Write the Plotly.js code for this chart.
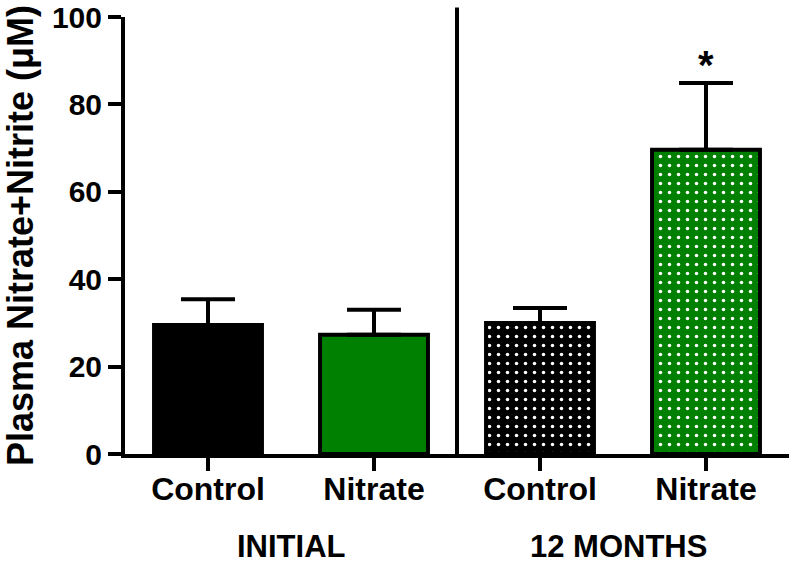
<!DOCTYPE html>
<html>
<head>
<meta charset="utf-8">
<script src="https://cdn.plot.ly/plotly-3.0.1.min.js"></script>
<style>html,body{margin:0;padding:0;background:#fff;}#chart{width:792px;height:565px;}</style>
</head>
<body>
<div id="chart"></div>
<script>
// Data
const positions = [0, 1, 2, 3];
const tickLabels = ['Control', 'Nitrate', 'Control', 'Nitrate'];
const groupLabels = ['INITIAL', '12 MONTHS'];
const groupCenters = [0.5, 2.47];
const means = [29.5, 27.3, 30.0, 69.6];
const sem = [5.9, 5.7, 3.4, 15.3];
const barColors = ['#000000', '#008000', '#000000', '#008000'];
const barPatterns = ['', '', '.', '.'];
const yTicks = [0, 20, 40, 60, 80, 100];
const sigIndex = 3;

const FONT = 'Arial, "Liberation Sans", sans-serif';
const xRange = [-0.5, 3.5];
const yRange = [0, 100];

const trace = {
  type: 'bar',
  x: positions,
  y: means,
  width: 0.65,
  marker: {
    color: barColors,
    line: {color: '#000', width: 4},
    pattern: {
      shape: barPatterns, fillmode: 'overlay',
      fgcolor: '#ffffff', fgopacity: 1,
      size: 9, solidity: 0.12
    }
  },
  error_y: {
    type: 'data', symmetric: false, array: sem, arrayminus: positions.map(() => 0),
    color: '#000', thickness: 4, width: 27
  },
  hoverinfo: 'none'
};

const annotations = groupLabels.map((t, i) => ({
  text: t, x: groupCenters[i], xref: 'x', y: -0.212, yref: 'paper',
  xanchor: 'center', yanchor: 'middle', showarrow: false,
  font: {family: FONT, size: 31, color: '#000', weight: 'bold'}
}));
annotations.push({
  text: '*', x: positions[sigIndex], xref: 'x', y: means[sigIndex] + sem[sigIndex], yref: 'y',
  xanchor: 'center', yanchor: 'bottom', showarrow: false, yshift: -6,
  font: {family: FONT, size: 40, color: '#000', weight: 'bold'}
});

const sepX = (1.5 - xRange[0]) / (xRange[1] - xRange[0]);

const layout = {
  width: 792, height: 565,
  margin: {l: 125, r: 3, t: 17, b: 111},
  paper_bgcolor: '#fff', plot_bgcolor: '#fff',
  showlegend: false,
  font: {family: FONT, color: '#000'},
  xaxis: {
    range: xRange, tickvals: positions, ticktext: tickLabels,
    showgrid: false, zeroline: false, showline: true, linewidth: 4, linecolor: '#000',
    ticks: 'outside', ticklen: 13, tickwidth: 4, tickcolor: '#000',
    ticklabelstandoff: -9,
    tickfont: {family: FONT, size: 32, color: '#000', weight: 'bold'},
    fixedrange: true
  },
  yaxis: {
    range: yRange, tickvals: yTicks, ticklabeloverflow: 'allow',
    showgrid: false, zeroline: false, showline: true, linewidth: 4, linecolor: '#000',
    ticks: 'outside', ticklen: 13, tickwidth: 4, tickcolor: '#000',
    tickfont: {family: FONT, size: 30, color: '#000', weight: 'bold'},
    title: {text: 'Plasma Nitrate+Nitrite (μM)', standoff: 21,
            font: {family: FONT, size: 36, color: '#000', weight: 'bold'}},
    fixedrange: true
  },
  shapes: [{
    type: 'line', xref: 'paper', yref: 'paper', x0: sepX, x1: sepX, y0: 0, y1: 1.022,
    line: {color: '#000', width: 4}
  }],
  annotations: annotations
};

Plotly.newPlot('chart', [trace], layout, {displayModeBar: false, staticPlot: true});
</script>
</body>
</html>
